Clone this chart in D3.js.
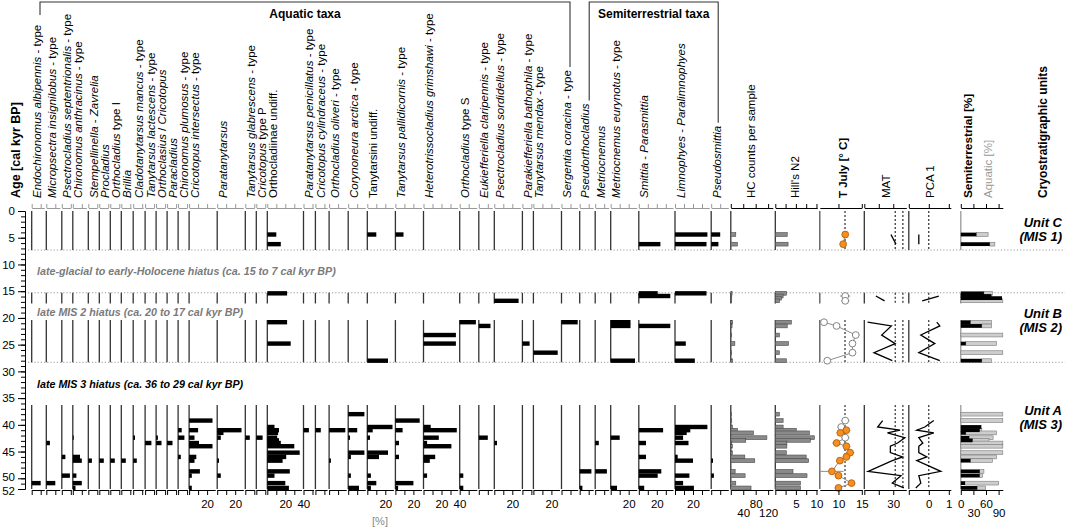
<!DOCTYPE html>
<html>
<head>
<meta charset="utf-8">
<script src="https://d3js.org/d3.v7.min.js"></script>
<style>
  body { margin: 0; background: #fff; }
  svg { font-family: "Liberation Sans", Arial, sans-serif; }
  text { white-space: pre; }
</style>
</head>
<body>
<svg id="chart" width="1065" height="531"></svg>
<script>
// ---- data --------------------------------------------------------------
// sample ages [cal kyr BP]:  unit C | upper unit B | lower unit B | unit A
var sampleAges = [4.4, 6.2,
  15.4, 15.9, 16.3, 16.8,
  20.8, 21.5, 23.2, 24.8, 26.5, 28.0,
  38.0, 39.2, 40.4, 41.0, 41.5, 42.4, 42.9, 43.4, 44.0, 45.2, 46.0, 46.7, 48.7, 49.5, 50.9, 51.8];

var taxaNames = [
  "Endochironomus albipennis - type", "Micropsectra insignilobus - type",
  "Psectrocladius septentrionalis - type", "Chironomus anthracinus - type",
  "Stempellinella - Zavrelia", "Procladius", "Orthocladius type I", "Brillia",
  "Cladotanytarsus mancus - type", "Tanytarsus lactescens - type",
  "Orthoclasius / Cricotopus", "Paracladius", "Chironomus plumosus - type",
  "Cricotopus intersectus - type", "Paratanytarsus", "Tanytarsus glabrescens - type",
  "Cricotopus type P", "Orthocladiinae undiff.", "Paratanytarsus penicillatus - type",
  "Cricotopus cylindraceus - type", "Orthocladius oliveri - type", "Corynoneura arctica - type",
  "Tanytarsini undiff.", "Tanytarsus pallidicornis - type", "Heterotrissocladius grimshawi - type",
  "Orthocladius type S", "Eukiefferiella claripennis - type", "Psectrocladius sordidellus - type",
  "Parakiefferiella bathophila - type", "Tanytarsus mendax - type", "Sergentia coracina - type",
  // semiterrestrial
  "Pseudorthocladius", "Metriocnemus", "Metriocnemus eurynotus - type",
  "Smittia - Parasmittia", "Limnophyes - Paralimnophyes", "Pseudosmittia"];
var aquaticCount = 31;

// axis extent of each taxon column [%]
var taxaMax = [14, 15, 10, 15, 10, 10, 10, 11, 11, 10, 10, 10, 10,
  29, 29, 10, 10, 38, 11, 13, 19, 19, 29, 29, 38, 19, 15, 29, 10, 29, 18,
  15, 15, 29, 38, 38, 19];
var fortyLabelTaxa = ["Orthocladiinae undiff.", "Heterotrissocladius grimshawi - type"];

// percentages per taxon, one value per sample age
var taxaPct = [
  [0,0, 0,0,0,0, 0,0,0,0,0,0, 0,0,0,0,0,0,0,0,0,0,0,0,0,0,10,0],
  [0,0, 0,0,0,0, 0,0,0,0,0,0, 0,0,0,0,0,0,0,4,0,0,0,0,0,0,10,0],
  [0,0, 0,0,0,0, 0,0,0,0,0,0, 0,0,0,0,0,0,0,0,0,0,4,0,0,9,0,0],
  [0,0, 0,0,0,0, 0,0,0,0,0,0, 0,0,0,0,0,1,0,0,0,0,8,10,0,4,10,3],
  [0,0, 0,0,0,0, 0,0,0,0,0,0, 0,0,0,0,0,0,0,0,0,0,0,4,0,0,0,0],
  [0,0, 0,0,0,0, 0,0,0,0,0,0, 0,0,0,0,0,0,0,0,0,0,0,5,0,0,0,0],
  [0,0, 0,0,0,0, 0,0,0,0,0,0, 0,0,0,0,0,0,0,0,0,0,0,5,0,0,0,0],
  [0,0, 0,0,0,0, 0,0,0,0,0,0, 0,0,0,0,0,0,0,0,0,0,0,5,0,0,0,0],
  [0,0, 0,0,0,0, 0,0,0,0,0,0, 0,0,0,0,0,2,0,0,0,0,0,4,0,0,0,0],
  [0,0, 0,0,0,0, 0,0,0,0,0,0, 0,0,0,0,0,0,0,7,0,0,0,0,0,0,0,0],
  [0,0, 0,0,0,0, 0,0,0,0,0,0, 0,0,0,0,0,2,0,6,0,0,0,0,0,0,0,0],
  [0,0, 0,0,0,0, 0,0,0,0,0,0, 0,0,0,0,0,0,0,6,0,0,0,0,0,0,0,0],
  [0,0, 0,0,0,0, 0,0,0,0,0,0, 0,0,0,4,0,7,0,0,0,0,3,0,0,0,0,0],
  [0,0, 0,0,0,0, 0,0,0,0,0,0, 0,26,0,10,0,6,0,11,26,0,8,6,12,3,0,3],
  [0,0, 0,0,0,0, 0,0,0,0,0,0, 0,0,0,27,7,4,0,0,0,0,0,2,0,4,0,0],
  [0,0, 0,0,0,0, 0,0,0,0,0,0, 0,0,0,0,0,5,0,0,0,0,0,0,0,0,0,0],
  [0,0, 0,0,0,0, 0,0,0,0,0,0, 0,0,0,0,0,7,0,0,0,0,0,0,0,0,0,0],
  [10,15, 22,0,0,0, 22,0,0,26,0,0, 0,0,8,13,12,11,13,15,30,36,21,17,25,8,20,24],
  [0,0, 0,0,0,0, 0,0,0,0,0,0, 0,0,0,6,0,0,0,0,0,0,0,0,0,0,0,0],
  [0,0, 0,0,0,0, 0,0,0,0,0,0, 0,0,0,6,0,0,0,0,0,0,0,0,0,0,0,0],
  [0,0, 0,0,0,0, 0,0,0,0,0,0, 0,0,0,18,0,0,0,0,0,0,0,2,0,0,0,0],
  [0,0, 0,0,0,0, 0,0,0,0,0,0, 18,0,0,10,0,2,0,0,0,18,3,0,0,3,0,12],
  [10,0, 0,0,0,0, 0,0,0,0,0,23, 0,0,28,6,0,3,0,0,0,23,13,0,0,4,10,4],
  [9,0, 0,0,0,0, 0,0,0,0,0,0, 0,27,0,8,0,0,0,4,0,0,4,0,0,0,20,3],
  [0,0, 0,0,0,0, 0,0,36,36,0,0, 0,0,8,37,0,17,0,4,31,0,13,7,0,4,0,0],
  [0,0, 0,0,0,0, 18,0,0,0,0,0, 0,0,0,0,0,0,0,0,0,0,0,0,0,4,0,4],
  [0,0, 0,0,0,0, 0,13,0,0,0,0, 0,0,0,0,0,10,0,0,0,0,0,0,0,0,0,0],
  [0,0, 0,0,0,27, 0,0,0,0,0,0, 0,0,0,0,0,0,0,3,0,0,0,0,0,0,0,0],
  [0,0, 0,0,0,0, 0,0,0,8,0,0, 0,0,0,0,0,0,0,0,0,0,0,0,0,0,0,0],
  [0,0, 0,0,0,0, 0,0,0,0,27,0, 0,0,0,0,0,0,0,0,0,0,0,0,0,0,0,0],
  [0,0, 0,0,0,0, 18,0,0,0,0,0, 0,0,0,0,0,0,0,0,0,0,0,0,0,0,0,0],
  [0,0, 0,0,0,0, 0,0,0,0,0,0, 0,0,0,0,0,0,0,0,0,0,0,0,13,0,0,3],
  [0,0, 0,0,0,0, 0,0,0,0,0,0, 0,0,0,0,0,0,0,4,0,0,0,0,13,0,0,0],
  [0,0, 0,0,0,0, 22,22,0,0,0,27, 0,0,0,0,0,10,0,0,0,0,0,0,0,0,0,7],
  [0,24, 21,35,0,0, 0,35,0,0,0,0, 0,0,0,27,0,0,0,8,0,0,8,0,25,21,0,6],
  [36,35, 35,0,0,0, 0,0,0,12,0,22, 0,0,36,17,13,9,0,15,0,0,3,20,0,16,9,21],
  [10,8, 0,0,0,0, 0,0,0,0,0,0, 0,0,0,0,0,0,0,0,0,0,0,2,0,3,0,0]
];

var hcCounts = [16,21, 4,3,3,3, 6,4,3,13,3,6, 2,3,5,21,73,116,48,3,5,5,45,77,14,46,16,65];
var hillN2 = [2.9,3.1, 2.7,1.9,1.5,1.0, 3.9,2.9,1.0,3.2,1.0,2.7,
  1.0,1.9,1.9,5.1,8.3,9.5,8.5,2.8,2.8,2.7,7.5,8.1,4.3,7.7,6.1,6.1];
var tJuly = [11.45,11.0, null,11.45,null,11.45, 6.9,9.6,13.7,13.0,13.0,7.6,
  null,11.45,10.6,11.7,10.4,11.45,null,9.6,11.7,12.5,11.7,10.3,8.6,10.0,12.8,10.0];
var tJulyErr = [0.5,0.6, null,1.1,null,0.9, 0.7,0.7,0.8,0.7,0.7,0.7,
  null,0.9,0.8,0.8,0.8,0.9,null,0.9,0.8,0.9,0.8,0.8,2.5,0.8,0.8,0.8];
var tJulyGood = [1,1, 0,0,0,0, 0,0,0,0,0,0, 0,0,0,1,1,0,0,1,1,1,1,1,1,1,1,1];
var tJulyModern = 11.4;
var matValues = [27.6,32.8, null,12,null,21, 3.4,28,18,32,10,29,
  null,19,13.8,37,24,42,null,34.5,27,27,39.7,29,4,38,29,41];
var matThresholds = [32, 40];
var pca1 = [-0.5,-0.5, null,0.5,null,-0.33, 0.4,0.55,-0.4,0.3,-0.5,0.55,
  null,0.25,-0.2,-0.6,0.25,-0.5,null,-0.3,-0.5,-0.5,-0.1,-0.6,0.6,-0.5,-0.4,-0.65];
var semiPct = [37,69, 55,73,98,0, 23,50,0,12,0,50, 0,0,49,45,12,20,28,0,0,0,0,23,45,45,10,39];
var aquaPct = [28,12, 20,0,0,100, 50,23,100,73,100,23, 100,100,0,5,73,57,39,100,100,100,85,52,10,7,80,20];

var ageTicks = [0, 5, 10, 15, 20, 25, 30, 35, 40, 45, 50, 52];
var segments = [[0, 7.3], [15.3, 17.3], [20.4, 28.3], [36.3, 52]];
var boundaryAges = [7.3, 15.3, 28.3];
var hiatusTexts = ["late-glacial to early-Holocene hiatus (ca. 15 to 7 cal kyr BP)",
  "late MIS 2 hiatus (ca. 20 to 17 cal kyr BP)", "late MIS 3 hiatus (ca. 36 to 29 cal kyr BP)"];
var unitNames = ["Unit C", "Unit B", "Unit A"];
var unitMis = ["(MIS 1)", "(MIS 2)", "(MIS 3)"];
var unitLabelAges = [3.6, 20.6, 38.7];

// ---- layout ------------------------------------------------------------
var svg = d3.select("#chart");
var y = d3.scaleLinear().domain([0, 52]).range([211, 489]);
var pxPerPct = 0.9, colGap = 2, firstColX = 31.7;
var topAxisY = 208, bottomAxisY = 490, labelBase = 198;
var barH = 4.4;
var roman = ["-", "type", "undiff.", "I", "S", "P", "/", "Orthocladiinae", "Tanytarsini"];

var segOf = sampleAges.map(function(a) {
  return segments.findIndex(function(s) { return a >= s[0] - 0.05 && a <= s[1] + 0.05; });
});

function styleAxis(g, color, labelSize) {
  g.attr("font-family", null).attr("font-size", null);
  g.select(".domain").attr("stroke", color);
  g.selectAll(".tick line").attr("stroke", color);
  g.selectAll(".tick text").attr("fill", "#000").attr("font-size", labelSize || 11.5);
}

// rotated header label, reading bottom to top, genus names in italics
function rotLabel(x, text, opts) {
  opts = opts || {};
  var t = svg.append("text")
    .attr("transform", "translate(" + x + "," + labelBase + ") rotate(-90)")
    .attr("font-size", opts.size || 11.5)
    .attr("font-weight", opts.bold ? "bold" : null)
    .attr("fill", opts.color || "#000");
  if (opts.plain) {
    t.text(text);
  } else {
    var words = text.split(" ");
    words.forEach(function(w, k) {
      t.append("tspan")
        .attr("font-style", roman.indexOf(w) >= 0 ? "normal" : "italic")
        .text(w + (k < words.length - 1 ? " " : ""));
    });
  }
  return t;
}

function drawBaselines(x, color) {
  segments.forEach(function(s) {
    svg.append("line").attr("x1", x).attr("x2", x)
      .attr("y1", y(s[0])).attr("y2", y(s[1]))
      .attr("stroke", color).attr("stroke-width", 1.3);
  });
}

// dotted unit boundaries
boundaryAges.forEach(function(a) {
  svg.append("line").attr("x1", 28).attr("x2", 1065)
    .attr("y1", y(a)).attr("y2", y(a))
    .attr("stroke", "#999").attr("stroke-width", 1).attr("stroke-dasharray", "1.2,2");
});

// ---- age axis ----------------------------------------------------------
var yMinor = svg.append("g").attr("transform", "translate(25,0)")
  .call(d3.axisLeft(y).tickValues(d3.range(0, 53, 1)).tickSize(4).tickSizeOuter(0).tickFormat(""));
styleAxis(yMinor, "#000");
var yMajor = svg.append("g").attr("transform", "translate(25,0)")
  .call(d3.axisLeft(y).tickValues(ageTicks).tickSize(7).tickSizeOuter(0));
styleAxis(yMajor, "#000", 11.5);
yMajor.selectAll(".tick text").attr("dy", function(d) { return d === 52 ? "0.45em" : (d === 50 ? "0.2em" : "0.32em"); });
rotLabel(20, "Age [cal kyr BP]", {bold: true, plain: true, size: 12.5});

// ---- taxa columns --------------------------------------------------------
var cols = [];
var cx = firstColX;
taxaNames.forEach(function(name, i) {
  var sc = d3.scaleLinear().domain([0, taxaMax[i]]).range([cx, cx + taxaMax[i] * pxPerPct]);
  cols.push({name: name, values: taxaPct[i], scale: sc, x: cx, max: taxaMax[i]});
  cx += taxaMax[i] * pxPerPct + colGap;
});

var labelTops = [];
cols.forEach(function(c) {
  drawBaselines(c.x, "#333");
  var pts = c.values.map(function(v, k) { return {v: v, age: sampleAges[k]}; })
    .filter(function(d) { return d.v > 0; });
  svg.append("g").selectAll("rect").data(pts).enter().append("rect")
    .attr("x", c.x)
    .attr("y", function(d) { return y(d.age) - barH / 2; })
    .attr("width", function(d) { return c.scale(d.v) - c.x; })
    .attr("height", barH)
    .attr("fill", "#000");

  var ticks = d3.range(0, c.max + 0.01, 10);
  var top = svg.append("g").attr("transform", "translate(0," + topAxisY + ")")
    .call(d3.axisTop(c.scale).tickValues(ticks).tickSize(4).tickSizeOuter(0).tickFormat(""));
  styleAxis(top, "#999");

  var bTicks = ticks.slice();
  var forty = fortyLabelTaxa.indexOf(c.name) >= 0;
  if (forty) bTicks.push(40);
  var bot = svg.append("g").attr("transform", "translate(0," + bottomAxisY + ")")
    .call(d3.axisBottom(c.scale).tickValues(bTicks).tickSize(5).tickSizeOuter(0)
      .tickFormat(function(d) {
        if (d === 20 && c.max >= 18) return "20";
        if (d === 40 && forty) return "40";
        return "";
      }));
  styleAxis(bot, "#000");
  bot.selectAll(".tick text").attr("y", 10);
  bot.selectAll(".tick").filter(function(d) { return d === 40; }).select("line").remove();

  var lab = rotLabel(c.x + 9.5, c.name);
  labelTops.push(labelBase - lab.node().getComputedTextLength());
});

svg.append("text").attr("x", 380).attr("y", 525).attr("text-anchor", "middle")
  .attr("font-size", 11).attr("fill", "#888").text("[%]");

// group brackets
var aqRight = cols[aquaticCount - 1].x + 8.5;
var stLeft = cols[aquaticCount].x + 9.5;
var stRight = cols[cols.length - 1].x + 7;
var bracket = "M40,15V2H" + aqRight + "V" + (labelTops[aquaticCount - 1] - 3);
svg.append("path").attr("d", bracket).attr("fill", "none").attr("stroke", "#333").attr("stroke-width", 1.1);
var bracket2 = "M" + stLeft + "," + (labelTops[aquaticCount] - 3) + "V2H" + stRight + "V" + (labelTops[cols.length - 1] - 3);
svg.append("path").attr("d", bracket2).attr("fill", "none").attr("stroke", "#333").attr("stroke-width", 1.1);
svg.append("text").attr("x", 305).attr("y", 18).attr("text-anchor", "middle")
  .attr("font-size", 12).attr("font-weight", "bold").text("Aquatic taxa");
svg.append("text").attr("x", (stLeft + stRight) / 2).attr("y", 18).attr("text-anchor", "middle")
  .attr("font-size", 12).attr("font-weight", "bold").text("Semiterrestrial taxa");

// ---- summary panels ----------------------------------------------------
var panelW = 42;
var px = cx + 0.5;
function panelScale(domain, gap) {
  px += gap || 0;
  var s = d3.scaleLinear().domain(domain).range([px, px + panelW]);
  px += panelW + 2.5;
  return s;
}
var xHC = panelScale([0, 135]);
var xHill = panelScale([0, 10.2]);
var xT = panelScale([6, 15]);
var xMat = panelScale([0, 43.5]);
var xPca = panelScale([-1, 1.1]);
var xSemi = panelScale([0, 100], 7.5);

function panelAxes(sc, topTicks, labels, color) {
  var top = svg.append("g").attr("transform", "translate(0," + topAxisY + ")")
    .call(d3.axisTop(sc).tickValues(topTicks).tickSize(4).tickSizeOuter(0).tickFormat(""));
  styleAxis(top, color || "#000");
  var bot = svg.append("g").attr("transform", "translate(0," + bottomAxisY + ")")
    .call(d3.axisBottom(sc).tickValues(topTicks).tickSize(5).tickSizeOuter(0)
      .tickFormat(function(d) { return labels[d] === undefined ? "" : String(d); }));
  styleAxis(bot, "#000");
  bot.selectAll(".tick text").attr("y", function(d) { return labels[d] === 1 ? 19 : 10; });
}

function hBars(sc, values, fill, stroke) {
  var pts = values.map(function(v, k) { return {v: v, age: sampleAges[k]}; })
    .filter(function(d) { return d.v > 0; });
  svg.append("g").selectAll("rect").data(pts).enter().append("rect")
    .attr("x", sc.range()[0])
    .attr("y", function(d) { return y(d.age) - 1.9; })
    .attr("width", function(d) { return sc(d.v) - sc.range()[0]; })
    .attr("height", 3.8)
    .attr("fill", fill).attr("stroke", stroke).attr("stroke-width", 0.6);
}

function refLine(sc, v) {
  segments.forEach(function(s) {
    svg.append("line").attr("x1", sc(v)).attr("x2", sc(v))
      .attr("y1", y(s[0])).attr("y2", y(s[1]))
      .attr("stroke", "#000").attr("stroke-width", 1).attr("stroke-dasharray", "2,2");
  });
}

function segLines(sc, values, color, width) {
  var line = d3.line().x(function(d) { return sc(d.v); }).y(function(d) { return y(d.age); });
  segments.forEach(function(s, si) {
    var pts = values.map(function(v, k) { return {v: v, age: sampleAges[k], seg: segOf[k]}; })
      .filter(function(d) { return d.v !== null && d.seg === si; });
    if (pts.length > 1) {
      svg.append("path").attr("d", line(pts)).attr("fill", "none")
        .attr("stroke", color).attr("stroke-width", width);
    }
  });
}

// HC counts
drawBaselines(xHC.range()[0], "#333");
hBars(xHC, hcCounts, "#8a8a8a", "#4a4a4a");
panelAxes(xHC, [0, 40, 80, 120], {40: 1, 80: 0, 120: 1});
rotLabel(xHC.range()[0] + 24, "HC counts per sample", {plain: true});

// Hill's N2
drawBaselines(xHill.range()[0], "#333");
hBars(xHill, hillN2, "#8a8a8a", "#4a4a4a");
panelAxes(xHill, [0, 2.5, 5, 7.5, 10], {5: 0, 10: 0});
rotLabel(xHill.range()[0] + 24, "Hill's N2", {plain: true});

// T July
drawBaselines(xT.range()[0], "#555");
refLine(xT, tJulyModern);
var tPts = tJuly.map(function(v, k) {
  return {v: v, err: tJulyErr[k], good: tJulyGood[k], age: sampleAges[k]};
}).filter(function(d) { return d.v !== null; });
svg.append("g").selectAll("line").data(tPts).enter().append("line")
  .attr("x1", function(d) { return Math.max(xT.range()[0], xT(d.v - d.err)); })
  .attr("x2", function(d) { return xT(d.v + d.err); })
  .attr("y1", function(d) { return y(d.age); }).attr("y2", function(d) { return y(d.age); })
  .attr("stroke", "#8c8c8c").attr("stroke-width", 1);
segLines(xT, tJuly, "#8c8c8c", 1);
svg.append("g").selectAll("circle").data(tPts).enter().append("circle")
  .attr("cx", function(d) { return xT(d.v); })
  .attr("cy", function(d) { return y(d.age); })
  .attr("r", 3.4)
  .attr("fill", function(d) { return d.good ? "#f5901e" : "#fff"; })
  .attr("stroke", function(d) { return d.good ? "#b8600c" : "#777"; })
  .attr("stroke-width", 0.9);
panelAxes(xT, [10, 15], {10: 0, 15: 0});
rotLabel(xT.range()[0] + 27, "T July [° C]", {plain: true, bold: true});

// MAT
drawBaselines(xMat.range()[0], "#333");
matThresholds.forEach(function(v) { refLine(xMat, v); });
segLines(xMat, matValues, "#000", 1.3);
panelAxes(xMat, [0, 15, 30], {30: 0});
rotLabel(xMat.range()[0] + 26, "MAT", {plain: true});

// PCA 1
drawBaselines(xPca.range()[0], "#333");
refLine(xPca, 0);
segLines(xPca, pca1, "#000", 1.3);
panelAxes(xPca, [-1, 0, 1], {0: 0, 1: 0});
rotLabel(xPca.range()[0] + 25, "PCA 1", {plain: true});

// Semiterrestrial / aquatic
drawBaselines(xSemi.range()[0], "#999");
var sPts = sampleAges.map(function(a, k) { return {age: a, s: semiPct[k], q: aquaPct[k]}; });
var sg = svg.append("g");
sg.selectAll("rect.aq").data(sPts.filter(function(d) { return d.q > 0; })).enter().append("rect")
  .attr("x", function(d) { return xSemi(d.s); })
  .attr("y", function(d) { return y(d.age) - 1.9; })
  .attr("width", function(d) { return xSemi(d.s + d.q) - xSemi(d.s); })
  .attr("height", 3.8)
  .attr("fill", "#cdcdcd").attr("stroke", "#7a7a7a").attr("stroke-width", 0.6);
sg.selectAll("rect.st").data(sPts.filter(function(d) { return d.s > 0; })).enter().append("rect")
  .attr("x", xSemi(0))
  .attr("y", function(d) { return y(d.age) - 1.9; })
  .attr("width", function(d) { return xSemi(d.s) - xSemi(0); })
  .attr("height", 3.8)
  .attr("fill", "#000");
panelAxes(xSemi, [0, 30, 60, 90], {0: 0, 30: 1, 60: 0, 90: 1}, "#000");
rotLabel(xSemi.range()[0] + 11, "Semiterrestrial [%]", {plain: true, bold: true, size: 11.8});
rotLabel(xSemi.range()[0] + 31, "Aquatic [%]", {plain: true, color: "#999"});

// cryostratigraphic units
rotLabel(1047, "Cryostratigraphic units", {plain: true, bold: true, size: 12});
unitNames.forEach(function(u, i) {
  var cy = y(unitLabelAges[i]);
  svg.append("text").attr("x", 1062).attr("y", cy - 3).attr("text-anchor", "end")
    .attr("font-size", 13).attr("font-weight", "bold").attr("font-style", "italic").text(u);
  svg.append("text").attr("x", 1062).attr("y", cy + 11).attr("text-anchor", "end")
    .attr("font-size", 13).attr("font-weight", "bold").attr("font-style", "italic").text(unitMis[i]);
});

// hiatus annotations
var hiatusAges = [
  (segments[0][1] + segments[1][0]) / 2,
  (segments[1][1] + segments[2][0]) / 2,
  (segments[2][1] + segments[3][0]) / 2];
hiatusTexts.forEach(function(t, i) {
  svg.append("text").attr("x", 37).attr("y", y(hiatusAges[i]) + 4)
    .attr("font-size", 10.7).attr("font-weight", "bold").attr("font-style", "italic")
    .attr("fill", i < 2 ? "#7a7a7a" : "#000").text(t);
});
</script>
</body>
</html>
